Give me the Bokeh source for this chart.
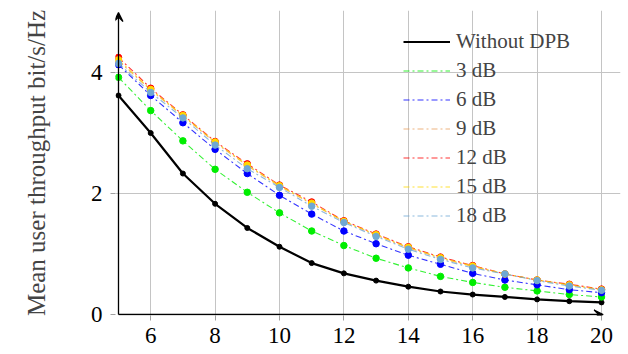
from bokeh.plotting import figure
from bokeh.models import Range1d, Legend, LegendItem, Arrow, VeeHead, FixedTicker
from bokeh.embed import file_html
from bokeh.resources import INLINE

# ---- data ----
snr = [5, 6, 7, 8, 9, 10, 11, 12, 13, 14, 15, 16, 17, 18, 19, 20]
without_dpb = [3.62, 3.00, 2.33, 1.83, 1.43, 1.12, 0.85, 0.68, 0.56, 0.46, 0.38, 0.33, 0.29, 0.25, 0.22, 0.20]
db3 = [3.92, 3.37, 2.87, 2.40, 2.02, 1.68, 1.38, 1.14, 0.93, 0.77, 0.63, 0.53, 0.45, 0.39, 0.33, 0.29]
db6 = [4.13, 3.62, 3.17, 2.73, 2.33, 1.97, 1.66, 1.38, 1.17, 0.98, 0.83, 0.68, 0.57, 0.49, 0.41, 0.36]
db9 = [4.19, 3.71, 3.28, 2.84, 2.46, 2.12, 1.83, 1.54, 1.31, 1.10, 0.93, 0.79, 0.67, 0.57, 0.49, 0.41]
db12 = [4.25, 3.74, 3.30, 2.86, 2.49, 2.14, 1.86, 1.55, 1.33, 1.12, 0.95, 0.81, 0.67, 0.57, 0.50, 0.42]
db15 = [4.21, 3.72, 3.29, 2.85, 2.47, 2.13, 1.84, 1.54, 1.32, 1.11, 0.94, 0.80, 0.67, 0.57, 0.49, 0.41]
db18 = [4.15, 3.67, 3.25, 2.80, 2.41, 2.10, 1.79, 1.52, 1.29, 1.08, 0.91, 0.77, 0.67, 0.56, 0.47, 0.40]

series = [
    ("3 dB", db3, "#00ee00"),
    ("6 dB", db6, "#0000ff"),
    ("9 dB", db9, "#e8a060"),
    ("12 dB", db12, "#ff0000"),
    ("15 dB", db15, "#ffd800"),
    ("18 dB", db18, "#6fa8d4"),
]

x_ticks = [6, 8, 10, 12, 14, 16, 18, 20]
y_ticks = [0, 2, 4]
y_label = "Mean user throughput bit/s/Hz"

SERIF = "Liberation Serif"

p = figure(frame_width=505, frame_height=305,
           min_border_left=115, min_border_right=8,
           min_border_top=10, min_border_bottom=39,
           x_range=Range1d(4.907, 20.59), y_range=Range1d(-0.0165, 5.025),
           output_backend="svg", toolbar_location=None)
p.outline_line_color = None
p.background_fill_color = "white"

# axes
p.xaxis.ticker = FixedTicker(ticks=x_ticks)
p.yaxis.ticker = FixedTicker(ticks=y_ticks)
for ax in (p.xaxis[0], p.yaxis[0]):
    ax.axis_line_color = None
    ax.major_tick_in = 0
    ax.major_tick_out = 5
    ax.major_tick_line_color = "#a0a0a0"
    ax.minor_tick_line_color = None
    ax.major_label_text_font = SERIF
    ax.major_label_text_font_size = "23px"
    ax.major_label_text_color = "black"
p.xaxis.major_label_standoff = 7
p.yaxis.major_label_standoff = 8
p.yaxis.axis_label = y_label
p.yaxis.axis_label_text_font = SERIF
p.yaxis.axis_label_text_font_size = "25px"
p.yaxis.axis_label_text_font_style = "normal"
p.yaxis.axis_label_standoff = 38

p.xgrid.ticker = FixedTicker(ticks=x_ticks)
p.ygrid.ticker = FixedTicker(ticks=[2, 4])
p.grid.grid_line_color = "#c4c4c4"
p.grid.grid_line_width = 1

# series
items = []
r = p.line(snr, without_dpb, line_color="black", line_width=2.2)
p.scatter(snr, without_dpb, size=5, fill_color="black", line_color="black")
items.append(LegendItem(label="Without DPB", renderers=[r]))
for name, vals, col in series:
    r = p.line(snr, vals, line_color=col, line_width=1.1, line_alpha=0.8, line_dash="6 3 2 3")
    p.scatter(snr, vals, size=6.5, fill_color=col, line_color=col)
    items.append(LegendItem(label=name, renderers=[r]))

# axis arrows
p.add_layout(Arrow(end=VeeHead(size=9, line_color="black", line_width=1.2, fill_color="black"),
                   x_start=5, y_start=0, x_end=20.05, y_end=0,
                   line_color="black", line_width=1.3))
p.add_layout(Arrow(end=VeeHead(size=9, line_color="black", line_width=1.2, fill_color="black"),
                   x_start=5, y_start=0, x_end=5, y_end=4.99,
                   line_color="black", line_width=1.3))

legend = Legend(items=items, location=(288, 85),
                glyph_width=47, glyph_height=29, label_height=29,
                spacing=0, padding=0, margin=0, label_standoff=6,
                label_text_font=SERIF, label_text_font_size="21px",
                background_fill_alpha=0, border_line_alpha=0)
p.add_layout(legend)

open("out.html", "w").write(file_html(p, INLINE))
